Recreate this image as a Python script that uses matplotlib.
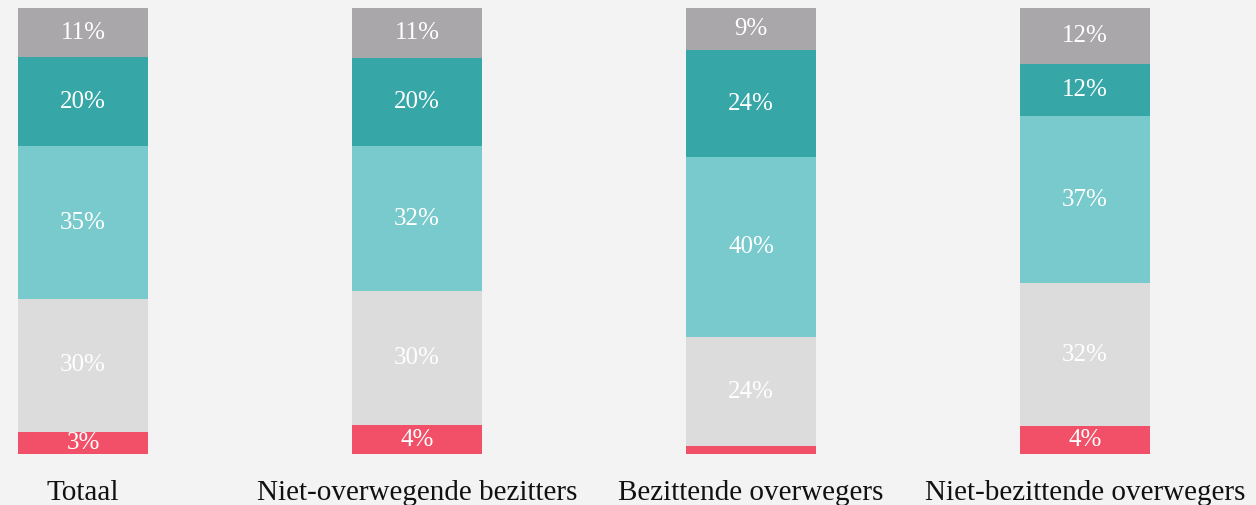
import numpy as np
import matplotlib.pyplot as plt

categories = ["Totaal", "Niet-overwegende bezitters", "Bezittende overwegers", "Niet-bezittende overwegers"]

# segments from bottom to top (shares)
red = [5.0, 6.5, 1.8, 6.2]
light_gray = [29.8, 30.0, 24.4, 32.2]
light_teal = [34.2, 32.5, 40.3, 37.3]
teal = [20.0, 19.8, 24.2, 11.8]
gray = [11.0, 11.2, 9.3, 12.5]

red_lbl = ["3%", "4%", "", "4%"]
light_gray_lbl = ["30%", "30%", "24%", "32%"]
light_teal_lbl = ["35%", "32%", "40%", "37%"]
teal_lbl = ["20%", "20%", "24%", "12%"]
gray_lbl = ["11%", "11%", "9%", "12%"]

series = [
    (red, red_lbl, "#f25068"),
    (light_gray, light_gray_lbl, "#dcdcdc"),
    (light_teal, light_teal_lbl, "#78cacc"),
    (teal, teal_lbl, "#36a6a7"),
    (gray, gray_lbl, "#a9a7a9"),
]

bg = "#f3f3f3"
fig = plt.figure(figsize=(12.56, 5.05), dpi=100, facecolor=bg)
ax = fig.add_axes([0, 0.101, 1, 0.883])
ax.set_facecolor(bg)

x = np.arange(len(categories))
bottom = np.zeros(len(categories))
for vals, lbls, col in series:
    vals = np.array(vals)
    ax.bar(x, vals, bottom=bottom, width=0.39, color=col, edgecolor="none")
    for xi, b, v, t in zip(x, bottom, vals, lbls):
        if t:
            ax.text(xi, b + v / 2, t, ha="center", va="center", color="white",
                    fontsize=18, family="Liberation Serif")
    bottom += vals

ax.set_xlim(-0.249, 3.512)
ax.set_ylim(0, 100)
ax.axis("off")

for xi, c in zip(x, categories):
    ax.text(xi, -8.8, c, ha="center", va="center", fontsize=21,
            family="Liberation Serif", color="#111111", clip_on=False)

fig.savefig("out.png", dpi=100, facecolor=bg)
